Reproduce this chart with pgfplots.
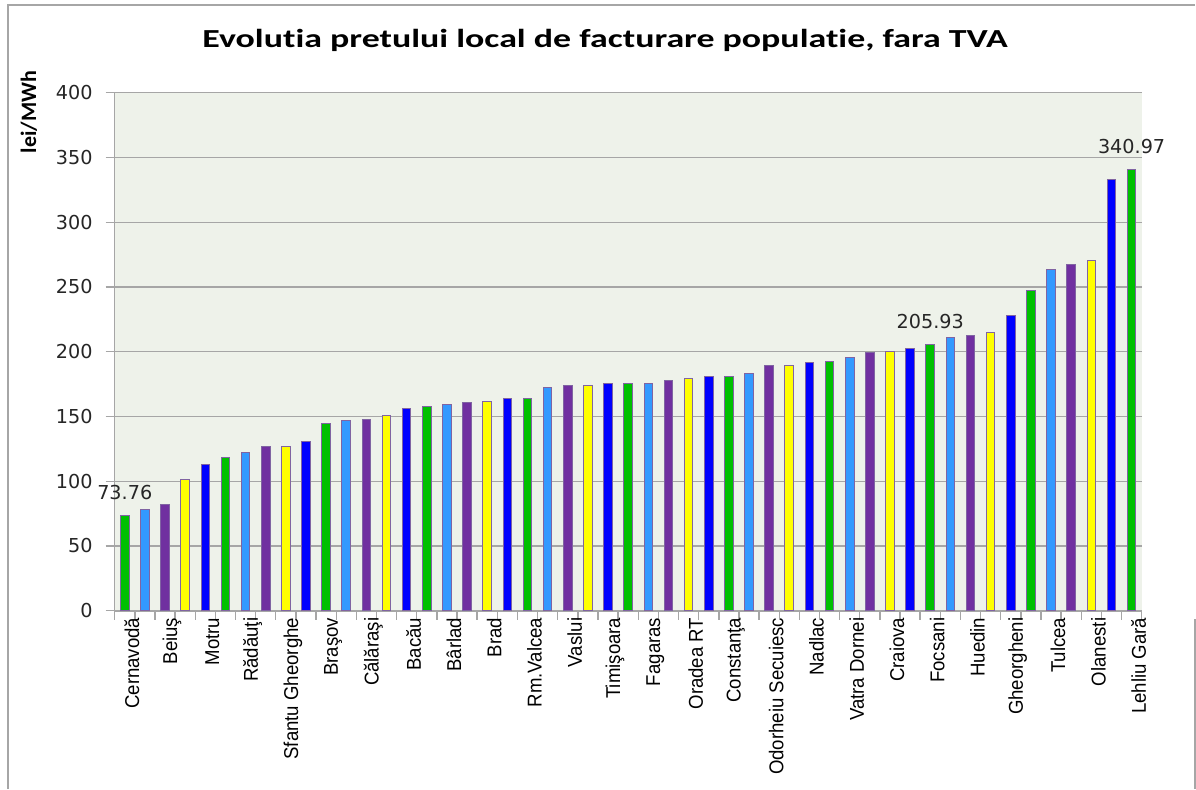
\documentclass[border=0pt]{standalone}
\usepackage{fontspec}
\usepackage{pgfplots}
\pgfplotsset{compat=1.18}
\newfontfamily\titlefont[Ligatures={NoCommon,NoDiscretionary}]{Carlito}
\newfontfamily\titlewide[Ligatures={NoCommon,NoDiscretionary},FakeStretch=1.38]{Carlito}
\newfontfamily\numfont{DejaVu Sans}
\newfontfamily\catfont[FakeStretch=0.93]{Liberation Sans}
\definecolor{cG}{HTML}{00C000}
\definecolor{cL}{HTML}{3399FF}
\definecolor{cP}{HTML}{7030A0}
\definecolor{cY}{HTML}{FFFF00}
\definecolor{cB}{HTML}{0000FF}
\definecolor{edge}{HTML}{8064A2}
\definecolor{bg}{HTML}{EEF2EA}
\definecolor{gridc}{HTML}{A6A6A6}
\definecolor{txt}{HTML}{262626}
\begin{document}
\begin{tikzpicture}[x=1pt,y=1pt]
\fill[white] (0,0) rectangle (598,394.5);
\path[use as bounding box] (0,0) rectangle (598,394.5);
\draw[gridc, line width=1pt] (4,0) -- (4,392) -- (597.5,392);
\draw[gridc, line width=1pt] (597.5,0) -- (597.5,85);
\node[font=\titlewide\bfseries\fontsize{13pt}{15pt}\selectfont] at (302.5,374.5) {Evolutia pretului local de facturare populatie, fara TVA};
\node[rotate=90, font=\titlefont\bfseries\fontsize{11pt}{13pt}\selectfont] at (14.5,338.5) {lei/MWh};
\begin{axis}[
  at={(57.35pt,89.15pt)}, anchor=south west,
  scale only axis, width=513.5pt, height=259pt,
  xmin=0.5, xmax=51.5, ymin=0, ymax=400,
  axis x line*=bottom, axis y line*=left,
  axis line style={gridc, line width=0.8pt, -},
  axis background/.style={fill=bg},
  ymajorgrids, grid style={gridc, line width=0.7pt},
  ytick={0,50,...,400},
  tick align=outside,
  major tick length=4.5pt,
  tick style={gridc, line width=0.7pt},
  xtick={0.5,1.5,...,51.5},
  xticklabels={},
  yticklabel style={font=\numfont\fontsize{9.6pt}{11pt}\selectfont, text=txt, xshift=-3pt},
  /pgf/number format/assume math mode=true,
  extra x ticks={1,3,...,51},
  extra x tick labels={Cernavodă,Beiuş,Motru,Rădăuţi,Sfantu Gheorghe,Braşov,Călăraşi,Bacău,Bârlad,Brad,Rm.Valcea,Vaslui,Timişoara,Fagaras,Oradea RT,Constanţa,Odorheiu Secuiesc,Nadlac,Vatra Dornei,Craiova,Focsani,Huedin,Gheorgheni,Tulcea,Olanesti,Lehliu Gară},
  extra x tick style={major tick length=0pt, tick label style={rotate=90, anchor=east, font=\catfont\fontsize{10pt}{12pt}\selectfont, text=black, yshift=-3.5pt}},
  clip=false,
]
\pgfplotsset{every axis plot/.append style={ybar, bar width=4.3pt, bar shift=0pt, draw=edge, line width=0.5pt}}
% green
\addplot[fill=cG] coordinates {(1,73.76) (6,118.2) (11,144.2) (16,157.8) (21,163.9) (26,175.6) (31,181.2) (36,192.4) (41,205.93) (46,247.5) (51,340.97)};
% light blue
\addplot[fill=cL] coordinates {(2,78.0) (7,122.4) (12,146.9) (17,159.4) (22,172.7) (27,175.6) (32,182.8) (37,195.9) (42,211.0) (47,263.7)};
% purple
\addplot[fill=cP] coordinates {(3,82.0) (8,126.9) (13,147.7) (18,161.0) (23,174.1) (28,177.8) (33,189.0) (38,199.3) (43,212.9) (48,267.5)};
% yellow
\addplot[fill=cY] coordinates {(4,101.1) (9,126.9) (14,150.9) (19,161.8) (24,174.1) (29,179.6) (34,189.0) (39,200.1) (44,214.5) (49,270.7)};
% blue
\addplot[fill=cB] coordinates {(5,113.1) (10,130.4) (15,156.2) (20,163.9) (25,175.6) (30,181.2) (35,191.6) (40,202.5) (45,228.3) (50,332.9)};
% data labels
\addplot[draw=none, fill=none, mark=none, nodes near coords, point meta=explicit symbolic,
  every node near coord/.append style={font=\numfont\fontsize{9.6pt}{11pt}\selectfont, text=txt, yshift=4pt}]
  coordinates {(1,73.76)[73.76] (41,205.93)[205.93] (51,340.97)[340.97]};
\end{axis}
\end{tikzpicture}
\end{document}
